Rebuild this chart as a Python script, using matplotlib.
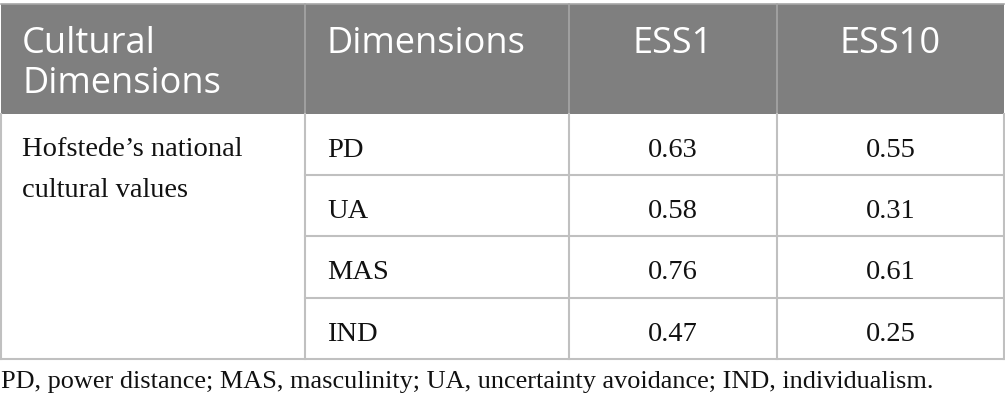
import matplotlib
matplotlib.use("Agg")
import matplotlib.pyplot as plt
from matplotlib.patches import Rectangle

# table content
headers = ["Cultural\nDimensions", "Dimensions", "ESS1", "ESS10"]
group_label = ["Hofstede’s national", "cultural values"]
dims = ["PD", "UA", "MAS", "IND"]
ess1 = [0.63, 0.58, 0.76, 0.47]
ess10 = [0.55, 0.31, 0.61, 0.25]
footnote = "PD, power distance; MAS, masculinity; UA, uncertainty avoidance; IND, individualism."

# layout in pixels (figure is 1005 x 412 at dpi 100)
W, H = 1005, 412
col_x = [1, 305, 569, 777, 1004]
top, head_bot = 4, 114
row_h = 61.2
SANS = "Open Sans"
SERIF = "Liberation Serif"
HEAD_FS = 26
BODY_FS = 20.5
FOOT_FS = 18.9
ink = "#111111"
line_col = "#c0c0c0"

fig = plt.figure(figsize=(W / 100, H / 100), dpi=100)
ax = fig.add_axes([0, 0, 1, 1])
ax.set_xlim(0, W); ax.set_ylim(H, 0); ax.axis("off")

# header band
ax.add_patch(Rectangle((col_x[0], top), col_x[-1] - col_x[0], head_bot - top,
                       facecolor="#7f7f7f", edgecolor="none"))
for x in col_x[1:-1]:
    ax.plot([x, x], [top, head_bot], color="#a6a6a6", lw=1.2)
ax.plot([col_x[0], col_x[-1]], [top, top], color="#a6a6a6", lw=1.2)

# header text
for k, part in enumerate(headers[0].split("\n")):
    ax.text(22, 53 + 40 * k, part, color="white", fontsize=HEAD_FS, family=SANS, va="baseline")
ax.text(327, 53, headers[1], color="white", fontsize=HEAD_FS, family=SANS, va="baseline")
for i, h in enumerate(headers[2:]):
    cx = (col_x[i + 2] + col_x[i + 3]) / 2
    ax.text(cx, 53, h, color="white", fontsize=HEAD_FS, family=SANS, va="baseline", ha="center")

# body grid
n = len(dims)
bot = head_bot + n * row_h
ax.plot([col_x[0], col_x[-1]], [bot, bot], color=line_col, lw=1.5)
for x in col_x:
    ax.plot([x, x], [head_bot, bot], color=line_col, lw=1.5)
for r in range(1, n):
    y = head_bot + r * row_h
    ax.plot([col_x[1], col_x[-1]], [y, y], color=line_col, lw=1.5)

# body text
for k, part in enumerate(group_label):
    ax.text(22, 156 + 41 * k, part, fontsize=BODY_FS, family=SERIF, va="baseline", color=ink)
for r, (d, a, b) in enumerate(zip(dims, ess1, ess10)):
    yb = head_bot + r * row_h + 43
    ax.text(327, yb, d, fontsize=BODY_FS, family=SERIF, va="baseline", color=ink)
    ax.text((col_x[2] + col_x[3]) / 2, yb, f"{a:.2f}", fontsize=BODY_FS, family=SERIF,
            va="baseline", ha="center", color=ink)
    ax.text((col_x[3] + col_x[4]) / 2, yb, f"{b:.2f}", fontsize=BODY_FS, family=SERIF,
            va="baseline", ha="center", color=ink)

ax.text(1, 388, footnote, fontsize=FOOT_FS, family=SERIF, va="baseline", color=ink)

fig.savefig("out.png", dpi=100)
